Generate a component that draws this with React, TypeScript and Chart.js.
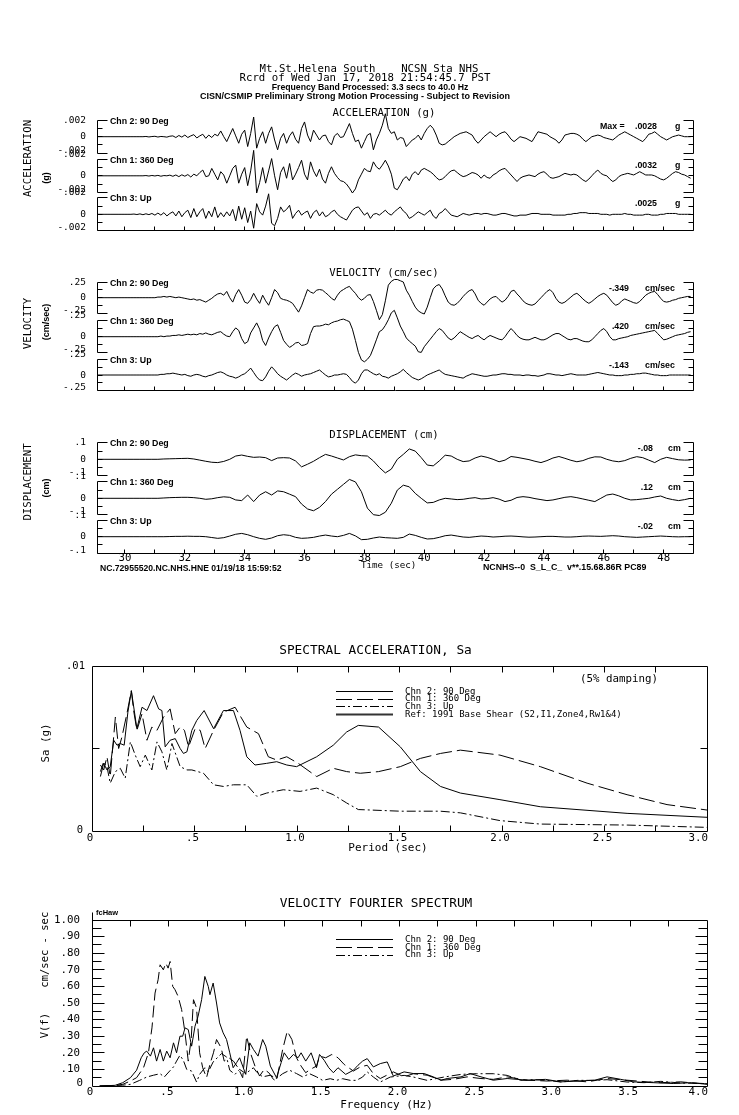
import React, { useEffect, useRef } from "react";
import { Chart, registerables } from "chart.js";

Chart.register(...registerables);

// ================= DATA =================
// Time histories: samples start at T_START, uniform step.
const T_START = 29.1;
const DT_ACC = 0.1;
const DT_VEL = 0.1;
const DT_DIS = 0.2;
const ACC_UNIT = 0.0001; // acceleration arrays stored in units of 1e-4 g

const ACC_CH2 = [
  0, 0, 0, 0, 0, 0, 0, 0, 0, 0,
  0, 0, 0, 0, 0, 0, 0.3, -0.3, 0.2, 0.5,
  -0.4, 0.3, 0, -0.5, 0.6, 1, -1, 1.5, -0.5, 2,
  -1, 1, 2.5, -1.5, 1, 3, -2, 2, -1, 3,
  1, 7, 0, -6, 2, 10, 1, -8, 3, 8,
  -12, 4, 24, -14, -2, 6, -8, 4, 12, -4,
  -16, -2, 4, -8, 1, 6, -3, -8, 10, 18,
  2, -6, 8, 2, -4, 1, 2, -6, -10, 1,
  4, -1, 0, 8, 16, 4, -6, -4, -14, -6,
  2, 4, -16, -4, 4, 14, 28, 10, 4, 6,
  -4, -1, -2, -12, -8, -4, -2, 2, -4, 4,
  10, 14, 10, 2, -8, -10, -9, -6, -3, 0,
  2, 4, 5, 6, 4, 2, -4, -8, -4, 0,
  3, 6, 3, 0, 3, 5, 6, 2, -3, -6,
  -3, 0, -1, -2, -4, -6, 0, 6, 5, 4,
  3, 0, -2, -4, -8, -4, 2, 3, 4, 4,
  3, 1, -3, -6, -3, 0, 1, 2, 1, -1,
  -2, -3, -4, -1, 2, 4, 6, 4, 2, 0,
  -2, -4, -6, -2, 3, 4, 6, 3, 0, -2,
  -4, -2, 0, 1, 2, 1, 0, 0, 0,
];
const ACC_CH1 = [
  0, 0, 0, 0, 0, 0, 0, 0, 0, 0,
  0, 0, 0, 0, 0, 0, 0.3, -0.3, 0.4, -0.2,
  0.5, -0.5, 0.3, 0, 0.8, -0.6, 1, -1, 1.2, -0.5,
  1.5, -1.5, 2, 0, 4, 7, -1, 0, 9, 2,
  -5, 5, 1, -9, 0, 9, 13, -9, 2, 10,
  -12, 6, 31, -21, -8, 10, -9, 6, 21, 0,
  -17, 4, 11, -3, 15, -5, 2, 10, 19, 2,
  -5, 17, 6, -1, 8, -4, -9, 3, 11, 3,
  -2, -6, -7, -10, -15, -21, -16, -5, 2, 9,
  6, 5, 17, 11, 8, 13, 19, 12, 2, -15,
  -17, -11, -4, -1, -6, 2, 5, 1, 7, 9,
  7, 5, 2, -2, -5, -4, -1, 3, 6, 7,
  4, 1, -1, 0, 2, 4, 3, 1, -3, 1,
  -2, -3, 1, 3, 6, 8, 9, 5, 1, -3,
  -7, -3, -1, 0, 1, 0, -1, 2, 4, 5,
  2, -2, -3, -2, -1, 1, 3, 2, 1, 2,
  1, -2, -5, -7, -4, 0, 4, 7, 3, 1,
  0, -4, -7, -5, -1, 1, 2, 3, 2, 1,
  3, 5, 3, 1, 1, 1, 0, -2, -4, -5,
  -3, 0, 3, 5, 4, 2, 1, -1, -3,
];
const ACC_CH3 = [
  0, 0, 0, 0, 0, 0, 0, 0, 0, 0,
  0, 0, 0.3, -0.3, 0.5, -0.5, 0.6, -0.4, 1, -1,
  1.5, -1, 2, -2, 1, 3, -2, 4, -3, 2,
  5, -4, 7, -3, 3, 7, -5, 4, -3, 9,
  -4, 2, -3, 3, -2, 6, -8, 10, -6, 8,
  -10, 4, -17, 13, 3, -1, 10, 25, -11, -14,
  -5, 9, 3, 6, 11, -5, 1, 5, -1, 2,
  4, -5, 2, 5, -2, 3, -3, -1, 3, 5,
  0, -3, -5, -7, -1, 5, 8, 9, 4, -1,
  2, -5, 0, 1, -1, 2, 5, 1, -1, 3,
  6, 9, 4, 1, -5, -3, 0, 3, 1, -1,
  2, 5, -2, -5, 1, 3, 7, 3, -1, -2,
  -3, -1, 1, 0, -1, 0, 1, 1, 0, 1,
  1, 0, -1, -1, 0, 1, 1, 0, -1, -2,
  -2, -1, -1, -1, 0, 1, 1, 1, 0, 0,
  0, 0, -1, -1, -1, -1, -1, 0, 0, 1,
  1, 2, 2, 2, 1, 1, 1, 1, 0, 0,
  0, -1, 0, 0, 0, 0, 1, 0, 0, -1,
  -1, -1, -1, 0, 0, -1, -1, -1, 0, 0,
  1, 1, 1, 1, 0, 0, 0, 0, 0,
];

const VEL_CH2 = [
  0, 0, 0, 0, 0, 0, 0, 0, 0, 0,
  0, 0, 0, 0, 0, 0, 0, 0, 0, 0,
  0.01, 0.01, 0.02, 0.01, 0.02, 0.01, 0, 0.01, 0, -0.01,
  -0.02, -0.03, -0.02, -0.04, -0.03, -0.05, -0.07, -0.04, -0.01, 0.03,
  0.06, 0.07, 0.04, 0.1, 0, -0.07, 0.05, 0.13, 0.04, -0.07,
  -0.09, -0.03, 0.07, -0.02, -0.09, 0.04, -0.05, -0.12, 0, 0.13,
  0.08, -0.01, -0.03, -0.04, -0.06, -0.09, -0.16, -0.23, -0.13, 0,
  0.13, 0.09, 0.07, 0.12, 0.13, 0.12, 0.08, 0.04, -0.01, -0.04,
  0.04, 0.1, 0.13, 0.16, 0.18, 0.12, 0.07, 0, -0.04, -0.01,
  0.04, 0.05, -0.06, -0.2, -0.35, -0.27, -0.05, 0.2, 0.26, 0.29,
  0.29, 0.27, 0.25, 0.12, 0.04, -0.06, -0.15, -0.21, -0.24, -0.26,
  -0.15, 0, 0.14, 0.19, 0.21, 0.14, 0.03, -0.07, -0.11, -0.12,
  -0.09, -0.04, 0.02, 0.07, 0.11, 0.13, 0.06, -0.04, -0.09, -0.12,
  -0.07, -0.02, 0.01, 0.02, -0.03, -0.07, -0.04, 0.02, 0.1, 0.12,
  0.06, 0.01, -0.05, -0.09, -0.11, -0.12, -0.1, -0.05, 0, 0.05,
  0.1, 0.13, 0.08, -0.01, -0.07, -0.09, -0.07, -0.03, 0.01, 0.05,
  0.07, 0.03, -0.02, -0.06, -0.09, -0.06, -0.02, 0.02, 0.05, 0.07,
  0.04, -0.02, -0.08, -0.12, -0.1, -0.05, -0.02, -0.04, -0.06, -0.08,
  -0.09, -0.06, -0.01, 0.04, 0.07, 0.09, 0.1, 0.05, -0.01, -0.06,
  -0.07, -0.06, -0.04, -0.03, -0.01, 0, 0.01, 0.02, 0.02,
];
const VEL_CH1 = [
  0, 0, 0, 0, 0, 0, 0, 0, 0, 0,
  0, 0, 0, 0, 0, 0, 0, 0, 0, 0,
  0, 0.01, 0, 0.01, 0.01, 0.02, 0.02, 0.03, 0.02, 0.03,
  0.04, 0.03, 0.04, 0.03, 0.05, 0.04, 0.06, 0.04, 0.03, 0.05,
  0.07, 0.08, 0.04, 0.01, 0, 0.08, 0.14, 0.1, -0.03, -0.11,
  -0.08, 0.06, 0.14, 0.22, 0.12, -0.06, -0.14, -0.02, 0.08, 0.16,
  0.19, 0.07, -0.06, -0.12, -0.17, -0.14, -0.1, -0.09, -0.14, -0.13,
  -0.11, 0.05, 0.16, 0.17, 0.17, 0.18, 0.2, 0.19, 0.22, 0.24,
  0.25, 0.27, 0.28, 0.26, 0.24, 0.12, -0.06, -0.25, -0.37, -0.4,
  -0.36, -0.3, -0.18, -0.05, 0.08, 0.11, 0.18, 0.27, 0.38, 0.42,
  0.3, 0.17, 0.08, -0.02, -0.07, -0.11, -0.15, -0.24, -0.25, -0.16,
  -0.1, -0.04, 0.02, 0.08, 0.13, 0.1, 0.04, -0.02, -0.05, -0.02,
  0.03, 0.08, 0.05, 0.02, -0.01, -0.03, 0, 0.02, -0.02, -0.05,
  -0.01, 0.02, 0, -0.02, -0.04, -0.05, 0, 0.07, 0.13, 0.08,
  0.02, -0.02, -0.04, -0.05, -0.05, -0.03, -0.01, -0.03, -0.05, -0.05,
  -0.03, 0, 0.03, 0.05, 0.05, 0.02, -0.01, -0.04, -0.05, -0.03,
  -0.03, -0.05, -0.07, -0.08, -0.08, -0.05, 0, 0.05, 0.1, 0.13,
  0.08, 0, -0.05, -0.05, -0.03, -0.02, -0.01, 0, 0.02, 0.03,
  0.04, 0.05, 0.06, 0.07, 0.08, 0.09, 0.1, 0.05, 0, -0.05,
  -0.04, -0.02, 0, 0.02, 0.03, 0.04, 0.05, 0.07, 0.08,
];
const VEL_CH3 = [
  0, 0, 0, 0, 0, 0, 0, 0, 0, 0,
  0, 0, 0, 0, 0, 0, 0, 0, 0, 0,
  0, 0.01, 0.01, 0.02, 0.02, 0.03, 0.02, 0.01, 0, 0.01,
  -0.01, -0.02, 0, 0.01, 0, -0.02, -0.03, -0.01, 0, 0.02,
  0.04, 0.05, 0.03, 0, -0.02, -0.03, -0.05, -0.03, 0, 0.02,
  0.06, 0.11, 0.04, -0.03, -0.08, -0.09, -0.03, 0.06, 0.13, 0.08,
  0.02, -0.02, -0.05, -0.08, -0.04, 0, 0.03, 0.01, -0.02, 0,
  0.01, 0.02, 0.04, 0.06, 0.08, 0.04, 0, -0.03, -0.02, 0,
  0, 0.01, 0.02, 0.01, -0.04, -0.1, -0.13, -0.08, 0.02, 0.08,
  0.08, 0.05, 0.02, 0, 0.02, -0.02, -0.03, -0.05, -0.02, 0,
  0.02, 0.05, 0.09, 0.04, 0, -0.04, -0.06, -0.08, -0.06, -0.03,
  0, 0.02, 0.04, 0.06, 0.08, 0.04, 0.01, 0, -0.01, -0.02,
  -0.03, -0.04, -0.05, -0.02, 0, 0.02, 0.01, 0, -0.01, -0.02,
  -0.02, -0.01, 0, 0, 0.01, 0.02, 0.02, 0.01, 0.01, 0,
  0, 0, -0.01, 0, 0, -0.01, -0.01, -0.02, -0.01, 0,
  0.02, 0.02, 0.01, 0, 0, -0.01, 0, 0.01, 0.02, 0.01,
  0, 0, 0, 0, 0.01, 0.02, 0.03, 0.04, 0.03, 0.02,
  0.01, 0, 0, -0.01, -0.01, -0.01, 0, 0, 0.01, 0.01,
  0.02, 0.02, 0.03, 0.03, 0.02, 0.01, 0, 0, -0.01, -0.01,
  -0.01, 0, 0, 0, 0, 0, 0, 0, 0,
];

const DIS_CH2 = [
  0, 0, 0, 0, 0,
  0, 0, 0, 0, 0,
  0, 0.002, 0.003, 0.004, 0.005,
  0.006, 0.002, -0.005, -0.012, -0.018,
  -0.02, -0.013, 0, 0.02, 0.026,
  0.018, 0.012, 0.014, 0.01, -0.008,
  0.008, 0.01, 0.008, -0.01, -0.046,
  -0.03, -0.012, 0.01, 0.03, 0.02,
  0.008, -0.004, 0.016, 0.027, 0.022,
  0.02, -0.01, -0.05, -0.083, -0.06,
  0, 0.03, 0.063, 0.05, 0.01,
  -0.035, -0.04, -0.01, 0.025, 0.02,
  0, -0.014, -0.01, 0.008, 0.02,
  0.012, 0, -0.015, -0.005, 0.017,
  0.012, 0.005, -0.002, -0.012, -0.02,
  -0.008, 0.008, 0.017, 0.006, -0.006,
  -0.015, -0.008, 0.006, 0.015, 0.014,
  0, -0.01, -0.015, -0.008, 0.006,
  0.016, 0.01, -0.005, -0.02, 0,
  0.012, 0.004, -0.003, -0.005, -0.004,
];
const DIS_CH1 = [
  0, 0, 0, 0, 0,
  0, 0, 0, 0, 0,
  0, 0.002, 0.004, 0.005, 0.006,
  0.006, 0.004, 0, -0.006, -0.003,
  0.004, 0.009, 0.006, -0.01, -0.014,
  0.02, -0.02, 0.02, 0.04, 0.02,
  0.045, 0.04, 0.025, 0.01, -0.035,
  -0.065, -0.076, -0.055, -0.02, 0.025,
  0.055, 0.085, 0.115, 0.1, 0.04,
  -0.06, -0.1, -0.105, -0.085, -0.03,
  0.05, 0.08, 0.07, 0.03, 0,
  -0.028, -0.025, -0.01, 0, -0.004,
  -0.008, -0.006, 0, 0.004, -0.004,
  -0.002, 0.004, -0.005, -0.02, -0.012,
  0.005, 0.01, 0.006, -0.002, -0.008,
  -0.014, -0.01, -0.002, 0.006, 0.01,
  0.004, -0.004, -0.012, -0.02, 0,
  0.02, 0.026, 0.015, 0, -0.01,
  -0.008, -0.004, 0, 0.008, 0.014,
  0, -0.008, -0.014, -0.008, 0,
];
const DIS_CH3 = [
  0, 0, 0, 0, 0,
  0, 0, 0, 0, 0,
  0, 0, 0.001, 0.002, 0.002,
  0.003, 0.002, 0.002, 0, -0.005,
  -0.01, -0.006, 0.004, 0.015, 0.02,
  0.012, 0, -0.01, -0.016, -0.008,
  0.006, 0.012, 0.008, -0.004, -0.01,
  -0.008, -0.004, 0.004, 0.01, 0.004,
  0, 0.008, 0.02, 0.005, -0.018,
  -0.016, -0.008, -0.002, -0.006, -0.008,
  -0.01, -0.004, 0.016, 0.008, -0.004,
  -0.014, -0.012, -0.004, 0.006, 0.01,
  0.004, -0.002, -0.004, 0, 0.004,
  0.002, -0.002, 0, 0.003, 0.004,
  0.002, -0.001, -0.003, -0.002, 0,
  0.002, 0.002, 0, -0.002, -0.002,
  0, 0.003, 0.004, 0.003, 0.002,
  0.004, 0.006, 0.004, 0, -0.002,
  -0.004, -0.002, 0, 0.002, 0.004,
  0.002, 0, -0.001, 0, 0,
];

const CHANNEL_NAMES = ["Chn 2: 90 Deg", "Chn 1: 360 Deg", "Chn 3: Up"];
const ACC_PEAKS = [".0028", ".0032", ".0025"];
const VEL_PEAKS = ["-.349", ".420", "-.143"];
const DIS_PEAKS = ["-.08", ".12", "-.02"];
const ACC_TICK_LABELS = [".002", "0", "-.002"];
const VEL_TICK_LABELS = [".25", "0", "-.25"];
const DIS_TICK_LABELS = [".1", "0", "-.1"];
const TIME_TICK_LABELS = [30, 32, 34, 36, 38, 40, 42, 44, 46, 48];

// Spectral acceleration (period s, Sa g)
const SA_CH2_P = [0.041, 0.057, 0.073, 0.089, 0.106, 0.122, 0.138, 0.157, 0.175, 0.192, 0.219, 0.244, 0.268, 0.3, 0.325, 0.341, 0.357, 0.381, 0.406, 0.43, 0.446, 0.463, 0.487, 0.511, 0.547, 0.593, 0.641, 0.69, 0.722, 0.755, 0.795, 0.852, 0.901, 0.95, 0.998, 1.096, 1.177, 1.242, 1.299, 1.398, 1.504, 1.602, 1.7, 1.797, 1.99, 2.187, 2.61, 3.0];
const SA_CH2 = [0.0033, 0.0041, 0.0037, 0.0039, 0.0055, 0.0052, 0.0053, 0.0052, 0.0072, 0.0085, 0.0062, 0.0075, 0.0073, 0.0082, 0.0074, 0.0073, 0.0051, 0.0055, 0.0056, 0.005, 0.0047, 0.0048, 0.0061, 0.0067, 0.0073, 0.0062, 0.0073, 0.0073, 0.0061, 0.0045, 0.004, 0.0041, 0.0042, 0.004, 0.0039, 0.0045, 0.0052, 0.006, 0.0064, 0.0063, 0.0051, 0.0036, 0.0027, 0.0023, 0.0019, 0.00147, 0.00107, 0.00083];
const SA_CH1_P = [0.041, 0.057, 0.073, 0.089, 0.114, 0.13, 0.146, 0.17, 0.192, 0.203, 0.219, 0.244, 0.268, 0.292, 0.317, 0.349, 0.381, 0.406, 0.43, 0.451, 0.471, 0.503, 0.528, 0.552, 0.593, 0.641, 0.698, 0.755, 0.812, 0.86, 0.901, 0.95, 1.006, 1.096, 1.177, 1.242, 1.309, 1.398, 1.504, 1.602, 1.7, 1.797, 1.99, 2.187, 2.415, 2.61, 2.805, 3.0];
const SA_CH1 = [0.004, 0.0037, 0.0045, 0.0033, 0.0069, 0.005, 0.0057, 0.0071, 0.0085, 0.0073, 0.0061, 0.0071, 0.0055, 0.0063, 0.0061, 0.0069, 0.0074, 0.0059, 0.0063, 0.0061, 0.0051, 0.0062, 0.0061, 0.005, 0.0061, 0.0072, 0.0075, 0.0063, 0.0059, 0.0045, 0.0043, 0.0045, 0.0041, 0.0033, 0.0038, 0.0036, 0.0035, 0.0036, 0.0039, 0.0044, 0.0047, 0.0049, 0.0046, 0.0039, 0.0029, 0.0022, 0.0016, 0.00127];
const SA_CH3_P = [0.041, 0.057, 0.073, 0.089, 0.114, 0.138, 0.162, 0.187, 0.211, 0.235, 0.26, 0.292, 0.317, 0.341, 0.365, 0.39, 0.43, 0.463, 0.487, 0.544, 0.593, 0.641, 0.69, 0.755, 0.804, 0.852, 0.933, 1.015, 1.096, 1.177, 1.242, 1.299, 1.504, 1.7, 1.797, 1.99, 2.187, 2.61, 3.0];
const SA_CH3 = [0.0036, 0.0042, 0.0039, 0.0029, 0.0036, 0.0038, 0.0032, 0.0054, 0.0046, 0.0039, 0.0046, 0.0037, 0.0054, 0.0048, 0.0037, 0.0053, 0.0039, 0.0037, 0.0037, 0.0035, 0.0028, 0.0027, 0.0028, 0.0028, 0.0021, 0.0023, 0.0025, 0.0024, 0.0026, 0.0022, 0.0017, 0.0013, 0.0012, 0.0012, 0.0011, 0.00063, 0.00042, 0.00036, 0.00022];
const SA_LEGEND = ["Chn 2: 90 Deg", "Chn 1: 360 Deg", "Chn 3: Up", "Ref: 1991 Base Shear (S2,I1,Zone4,Rw1&4)"];
const SA_X_TICKS = [0, 0.5, 1.0, 1.5, 2.0, 2.5, 3.0];
const SA_X_LABELS = ["0", ".5", "1.0", "1.5", "2.0", "2.5", "3.0"];

// Velocity Fourier spectrum (frequency Hz, amplitude cm/sec-sec)
const FS_CH2_F = [0.05, 0.15, 0.2, 0.25, 0.29, 0.32, 0.34, 0.356, 0.38, 0.4, 0.42, 0.443, 0.464, 0.486, 0.508, 0.53, 0.55, 0.572, 0.59, 0.605, 0.626, 0.648, 0.67, 0.69, 0.713, 0.734, 0.756, 0.767, 0.788, 0.81, 0.83, 0.853, 0.875, 0.896, 0.918, 0.94, 0.96, 0.98, 1.0, 1.026, 1.05, 1.08, 1.11, 1.13, 1.16, 1.2, 1.23, 1.25, 1.28, 1.31, 1.34, 1.36, 1.39, 1.425, 1.46, 1.48, 1.51, 1.54, 1.57, 1.6, 1.65, 1.7, 1.73, 1.76, 1.79, 1.83, 1.875, 1.92, 1.96, 2.03, 2.09, 2.16, 2.22, 2.27, 2.31, 2.4, 2.46, 2.53, 2.61, 2.7, 2.83, 2.95, 3.05, 3.16, 3.27, 3.35, 3.44, 3.52, 3.65, 3.78, 3.9, 4.0];
const FS_CH2 = [0, 0.004, 0.02, 0.05, 0.095, 0.17, 0.2, 0.21, 0.18, 0.23, 0.15, 0.22, 0.15, 0.21, 0.17, 0.26, 0.2, 0.3, 0.3, 0.35, 0.34, 0.24, 0.36, 0.42, 0.52, 0.66, 0.6, 0.55, 0.62, 0.5, 0.38, 0.32, 0.28, 0.2, 0.11, 0.14, 0.17, 0.12, 0.07, 0.26, 0.22, 0.18, 0.28, 0.24, 0.12, 0.05, 0.14, 0.2, 0.16, 0.19, 0.17, 0.2, 0.15, 0.2, 0.11, 0.19, 0.155, 0.11, 0.08, 0.11, 0.07, 0.095, 0.125, 0.15, 0.165, 0.115, 0.135, 0.145, 0.06, 0.085, 0.075, 0.075, 0.055, 0.035, 0.045, 0.055, 0.075, 0.055, 0.035, 0.045, 0.035, 0.04, 0.025, 0.03, 0.035, 0.055, 0.04, 0.025, 0.02, 0.015, 0.02, 0.01];
const FS_CH1_F = [0.05, 0.15, 0.2, 0.25, 0.29, 0.335, 0.367, 0.39, 0.41, 0.43, 0.443, 0.464, 0.48, 0.495, 0.508, 0.525, 0.54, 0.56, 0.583, 0.605, 0.626, 0.645, 0.66, 0.68, 0.7, 0.72, 0.745, 0.77, 0.79, 0.81, 0.84, 0.86, 0.89, 0.92, 0.95, 0.98, 1.006, 1.03, 1.06, 1.09, 1.12, 1.15, 1.18, 1.2, 1.24, 1.27, 1.3, 1.33, 1.36, 1.39, 1.42, 1.46, 1.48, 1.52, 1.56, 1.6, 1.64, 1.7, 1.745, 1.79, 1.83, 1.875, 1.96, 2.03, 2.09, 2.18, 2.27, 2.35, 2.44, 2.53, 2.61, 2.7, 2.83, 2.96, 3.09, 3.22, 3.35, 3.48, 3.61, 3.7, 3.83, 3.91, 4.0];
const FS_CH1 = [0, 0.003, 0.01, 0.03, 0.05, 0.11, 0.2, 0.35, 0.56, 0.64, 0.73, 0.7, 0.74, 0.71, 0.75, 0.6, 0.58, 0.54, 0.46, 0.32, 0.15, 0.28, 0.52, 0.47, 0.2, 0.11, 0.05, 0.14, 0.2, 0.28, 0.23, 0.15, 0.17, 0.15, 0.11, 0.05, 0.3, 0.2, 0.12, 0.06, 0.1, 0.08, 0.04, 0.03, 0.22, 0.33, 0.28, 0.17, 0.12, 0.08, 0.1, 0.12, 0.18, 0.17, 0.19, 0.17, 0.13, 0.09, 0.115, 0.125, 0.074, 0.045, 0.085, 0.055, 0.074, 0.065, 0.035, 0.04, 0.055, 0.045, 0.04, 0.055, 0.035, 0.03, 0.035, 0.025, 0.045, 0.035, 0.025, 0.02, 0.025, 0.018, 0.014];
const FS_CH3_F = [0.05, 0.2, 0.25, 0.31, 0.356, 0.4, 0.443, 0.47, 0.51, 0.53, 0.55, 0.572, 0.594, 0.616, 0.648, 0.68, 0.7, 0.734, 0.756, 0.788, 0.82, 0.842, 0.875, 0.896, 0.93, 0.96, 1.0, 1.05, 1.07, 1.11, 1.16, 1.2, 1.24, 1.285, 1.33, 1.37, 1.415, 1.46, 1.5, 1.55, 1.59, 1.63, 1.68, 1.72, 1.76, 1.79, 1.83, 1.875, 1.94, 2.03, 2.09, 2.18, 2.29, 2.4, 2.5, 2.61, 2.7, 2.79, 2.87, 2.96, 3.05, 3.16, 3.27, 3.35, 3.48, 3.59, 3.7, 3.83, 4.0];
const FS_CH3 = [0, 0.005, 0.01, 0.034, 0.054, 0.065, 0.074, 0.054, 0.095, 0.115, 0.15, 0.185, 0.155, 0.1, 0.09, 0.024, 0.07, 0.11, 0.085, 0.145, 0.175, 0.195, 0.175, 0.095, 0.07, 0.1, 0.075, 0.11, 0.085, 0.055, 0.065, 0.045, 0.074, 0.095, 0.075, 0.055, 0.074, 0.055, 0.034, 0.044, 0.034, 0.044, 0.034, 0.034, 0.054, 0.085, 0.054, 0.024, 0.054, 0.064, 0.054, 0.034, 0.054, 0.07, 0.074, 0.074, 0.064, 0.034, 0.038, 0.034, 0.024, 0.034, 0.034, 0.038, 0.024, 0.02, 0.028, 0.018, 0.014];
const FS_LEGEND = ["Chn 2: 90 Deg", "Chn 1: 360 Deg", "Chn 3: Up"];
const FS_X_TICKS = [0, 0.5, 1.0, 1.5, 2.0, 2.5, 3.0, 3.5, 4.0];
const FS_X_LABELS = ["0", ".5", "1.0", "1.5", "2.0", "2.5", "3.0", "3.5", "4.0"];
const FS_Y_TICKS = [1.0, 0.9, 0.8, 0.7, 0.6, 0.5, 0.4, 0.3, 0.2, 0.1, 0];
const FS_Y_LABELS = ["1.00", ".90", ".80", ".70", ".60", ".50", ".40", ".30", ".20", ".10", "0"];

// ================= LAYOUT / STYLE =================
const PAGE_W = 739;
const PAGE_H = 1115;
const MONO = '"DejaVu Sans Mono", "Liberation Mono", monospace';
const SANS = '"Liberation Sans", Arial, sans-serif';
const INK = "#000";
const DASH_LONG = [16, 5];
const DASH_DOT = [9, 3, 2, 3];
const SMALL = `bold 8.8px ${SANS}`;

const TH_LEFT = 97;
const TH_RIGHT = 693;
const TH_TOP = 120;
const TH_BOTTOM = 553;
const T_MIN = 29.065;
const T_MAX = 48.98;

const GROUPS = [
  {
    key: "a", title: "ACCELERATION (g)", titleY: 113, side: "ACCELERATION", sideY: 158.5,
    unit: "(g)", unitY: 178, zeros: [136.7, 175.8, 214.3], half: 16.4, full: 0.002,
    tickLabels: ACC_TICK_LABELS, peaks: ACC_PEAKS, peakRight: 657, peakUnit: "g", peakUnitX: 675,
    series: [ACC_CH2, ACC_CH1, ACC_CH3], dt: DT_ACC, scale: ACC_UNIT, showTime: false,
  },
  {
    key: "v", title: "VELOCITY (cm/sec)", titleY: 273, side: "VELOCITY", sideY: 323.5,
    unit: "(cm/sec)", unitY: 322, zeros: [297.7, 336.7, 375], half: 15.7, full: 0.25,
    tickLabels: VEL_TICK_LABELS, peaks: VEL_PEAKS, peakRight: 629, peakUnit: "cm/sec", peakUnitX: 645,
    series: [VEL_CH2, VEL_CH1, VEL_CH3], dt: DT_VEL, scale: 1, showTime: false,
  },
  {
    key: "d", title: "DISPLACEMENT (cm)", titleY: 435, side: "DISPLACEMENT", sideY: 482,
    unit: "(cm)", unitY: 488, zeros: [459.3, 498.3, 536.7], half: 16.4, full: 0.1,
    tickLabels: DIS_TICK_LABELS, peaks: DIS_PEAKS, peakRight: 653, peakUnit: "cm", peakUnitX: 668,
    series: [DIS_CH2, DIS_CH1, DIS_CH3], dt: DT_DIS, scale: 1, showTime: true,
  },
];

// ================= HELPERS =================
const crisp = (v: number) => Math.round(v - 0.5) + 0.5;

function text(ctx: any, s: string, x: number, y: number, font: string, align: CanvasTextAlign = "left", rot = 0) {
  ctx.save();
  ctx.fillStyle = INK;
  ctx.font = font;
  ctx.textAlign = align;
  ctx.textBaseline = "middle";
  ctx.translate(x, y);
  if (rot) ctx.rotate(rot);
  ctx.fillText(s, 0, 0);
  ctx.restore();
}

function seg(ctx: any, x1: number, y1: number, x2: number, y2: number, w = 1, dash: number[] = [], color = INK) {
  ctx.save();
  ctx.beginPath();
  ctx.setLineDash(dash);
  ctx.lineWidth = w;
  ctx.strokeStyle = color;
  ctx.moveTo(x1, y1);
  ctx.lineTo(x2, y2);
  ctx.stroke();
  ctx.restore();
}

function series(vals: number[], t0: number, dt: number, unit: number) {
  return vals.map((v, i) => ({ x: +(t0 + i * dt).toFixed(3), y: v * unit }));
}
function pairs(xs: number[], ys: number[]) {
  const n = Math.min(xs.length, ys.length);
  const out = [] as { x: number; y: number }[];
  for (let i = 0; i < n; i++) out.push({ x: xs[i], y: ys[i] });
  return out;
}

const lineDs = (data: any, extra: any = {}) => ({
  data,
  borderColor: INK,
  borderWidth: 1,
  pointRadius: 0,
  tension: 0,
  fill: false,
  clip: false as any,
  ...extra,
});

// ================= TIME HISTORY CHART =================
function timeConfig(): any {
  const datasets: any[] = [];
  const scales: any = {
    x: { type: "linear", min: T_MIN, max: T_MAX, display: false },
  };
  GROUPS.forEach((g) => {
    g.series.forEach((vals, i) => {
      const id = `${g.key}${i}`;
      const z = g.zeros[i];
      const k = g.full / g.half;
      scales[id] = {
        type: "linear", display: false,
        min: -(TH_BOTTOM - z) * k, max: (z - TH_TOP) * k,
      };
      datasets.push(lineDs(series(vals, T_START, g.dt, g.scale), { yAxisID: id, borderWidth: 1 }));
    });
  });

  const deco = {
    id: "timeDeco",
    afterDraw(chart: any) {
      const ctx = chart.ctx;
      const xs = chart.scales.x;
      const L = crisp(chart.chartArea.left);
      const R = crisp(chart.chartArea.right);
      // header
      text(ctx, "Mt.St.Helena South    NCSN Sta NHS", 369, 69.5, `10.7px ${MONO}`, "center");
      text(ctx, "Rcrd of Wed Jan 17, 2018 21:54:45.7 PST", 365, 78.5, `10.7px ${MONO}`, "center");
      text(ctx, "Frequency Band Processed: 3.3 secs to 40.0 Hz", 370, 88, `bold 8.7px ${SANS}`, "center");
      text(ctx, "CISN/CSMIP Preliminary Strong Motion Processing - Subject to Revision", 355, 96.5, `bold 9px ${SANS}`, "center");

      GROUPS.forEach((g) => {
        text(ctx, g.title, 384, g.titleY, `10.7px ${MONO}`, "center");
        text(ctx, g.side, 28, g.sideY, `10.7px ${MONO}`, "center", -Math.PI / 2);
        text(ctx, g.unit, 47, g.unitY, `bold 9px ${SANS}`, "center", -Math.PI / 2);
        let bottomY = 0;
        g.series.forEach((_, i) => {
          const ys = chart.scales[`${g.key}${i}`];
          const pT = crisp(ys.getPixelForValue(g.full));
          const pHu = crisp(ys.getPixelForValue(g.full / 2));
          const p0 = crisp(ys.getPixelForValue(0));
          const pHd = crisp(ys.getPixelForValue(-g.full / 2));
          const pB = crisp(ys.getPixelForValue(-g.full));
          bottomY = pB;
          // brackets
          [[L, 1], [R, -1]].forEach(([x, d]) => {
            seg(ctx, x, pT, x, pB);
            seg(ctx, x, pT, x + d * 10, pT);
            seg(ctx, x, pB, x + d * 10, pB);
            seg(ctx, x, pHu, x + d * 5, pHu);
            seg(ctx, x, pHd, x + d * 5, pHd);
            seg(ctx, x, p0, x + d * 5, p0);
          });
          // tick labels (upper/lower labels of adjacent channels overlap, as in the original plot)
          text(ctx, g.tickLabels[0], 86, i === 0 ? pT + 0.5 : pT - 5, `9.5px ${MONO}`, "right");
          text(ctx, g.tickLabels[1], 86, p0, `9.5px ${MONO}`, "right");
          text(ctx, g.tickLabels[2], 86, pB - 3, `9.5px ${MONO}`, "right");
          // channel label
          text(ctx, CHANNEL_NAMES[i], 110, pT + 1, SMALL, "left");
          // peak labels
          if (g.key === "a" && i === 0) text(ctx, "Max =", 600, pT + 6, SMALL, "left");
          text(ctx, g.peaks[i], g.peakRight, pT + 6, SMALL, "right");
          text(ctx, g.peakUnit, g.peakUnitX, pT + 6, SMALL, "left");
        });
        // bottom axis
        seg(ctx, L, bottomY, R, bottomY);
        for (let t = 30; t <= 48; t++) {
          const x = crisp(xs.getPixelForValue(t));
          seg(ctx, x, bottomY, x, bottomY - 4);
        }
        if (g.showTime) {
          TIME_TICK_LABELS.forEach((t) => {
            text(ctx, String(t), xs.getPixelForValue(t), bottomY + 4.5, `10.7px ${MONO}`, "center");
          });
        }
      });
      // footer
      text(ctx, "NC.72955520.NC.NHS.HNE 01/19/18 15:59:52", 100, 568.5, `bold 8.6px ${SANS}`, "left");
      text(ctx, "Time (sec)", 361, 566, `9.2px ${MONO}`, "left");
      text(ctx, "NCNHS--0  S_L_C_  v**.15.68.86R PC89", 483, 567.5, `bold 8.8px ${SANS}`, "left");
    },
  };

  return {
    type: "line",
    data: { datasets },
    options: {
      responsive: false,
      animation: false,
      events: [],
      layout: { padding: { left: TH_LEFT, right: PAGE_W - TH_RIGHT, top: TH_TOP, bottom: PAGE_H - TH_BOTTOM } },
      scales,
      plugins: { legend: { display: false }, tooltip: { enabled: false }, title: { display: false } },
    },
    plugins: [deco],
  };
}

// ================= SPECTRAL ACCELERATION CHART =================
const SA_L = 92, SA_R = 707, SA_T = 666, SA_B = 831;

function saConfig(): any {
  const deco = {
    id: "saDeco",
    afterDraw(chart: any) {
      const ctx = chart.ctx;
      const xs = chart.scales.x, ys = chart.scales.y;
      const L = crisp(chart.chartArea.left), R = crisp(chart.chartArea.right);
      const T = crisp(chart.chartArea.top), B = crisp(chart.chartArea.bottom);
      seg(ctx, L, T, R, T); seg(ctx, L, B, R, B); seg(ctx, L, T, L, B); seg(ctx, R, T, R, B);
      for (let p = 0.25; p < 3; p += 0.25) {
        const x = crisp(xs.getPixelForValue(p));
        seg(ctx, x, T, x, T + 6);
        seg(ctx, x, B, x, B - 6);
      }
      const ym = crisp(ys.getPixelForValue(0.005));
      seg(ctx, L, ym, L + 7, ym);
      seg(ctx, R, ym, R - 7, ym);
      text(ctx, "SPECTRAL ACCELERATION, Sa", 375.5, 650.5, `12.8px ${MONO}`, "center");
      text(ctx, ".01", 85, ys.getPixelForValue(0.01), `10.5px ${MONO}`, "right");
      text(ctx, "0", 83, ys.getPixelForValue(0) - 1, `10.5px ${MONO}`, "right");
      SA_X_TICKS.forEach((v, i) => {
        const x = xs.getPixelForValue(v);
        const last = i === SA_X_TICKS.length - 1;
        text(ctx, SA_X_LABELS[i], last ? x + 1 : x - 2, 838, `10.8px ${MONO}`, last ? "right" : "center");
      });
      text(ctx, "Period (sec)", 388, 848.5, `11px ${MONO}`, "center");
      text(ctx, "Sa (g)", 46, 743, `10.8px ${MONO}`, "center", -Math.PI / 2);
      text(ctx, "(5% damping)", 580, 679, `10.8px ${MONO}`, "left");
      // legend
      const ly = [691.5, 699, 706.5, 714.5];
      const dashes = [[], DASH_LONG, DASH_DOT, []];
      ly.forEach((y, i) => {
        seg(ctx, 336, crisp(y), 393, crisp(y), i === 3 ? 2 : 1, dashes[i], i === 3 ? "#333" : INK);
        text(ctx, SA_LEGEND[i], 405, y, `9px ${MONO}`, "left");
      });
    },
  };
  return {
    type: "line",
    data: {
      datasets: [
        lineDs(pairs(SA_CH2_P, SA_CH2)),
        lineDs(pairs(SA_CH1_P, SA_CH1), { borderDash: DASH_LONG }),
        lineDs(pairs(SA_CH3_P, SA_CH3), { borderDash: DASH_DOT }),
      ],
    },
    options: {
      responsive: false,
      animation: false,
      events: [],
      layout: { padding: { left: SA_L, right: PAGE_W - SA_R, top: SA_T, bottom: PAGE_H - SA_B } },
      scales: {
        x: { type: "linear", min: 0, max: 3, display: false },
        y: { type: "linear", min: 0, max: 0.01, display: false },
      },
      plugins: { legend: { display: false }, tooltip: { enabled: false } },
    },
    plugins: [deco],
  };
}

// ================= FOURIER SPECTRUM CHART =================
const FS_L = 92, FS_R = 707, FS_T = 920, FS_B = 1086;

function fsConfig(): any {
  const deco = {
    id: "fsDeco",
    afterDraw(chart: any) {
      const ctx = chart.ctx;
      const xs = chart.scales.x, ys = chart.scales.y;
      const L = crisp(chart.chartArea.left), R = crisp(chart.chartArea.right);
      const T = crisp(chart.chartArea.top), B = crisp(chart.chartArea.bottom);
      seg(ctx, L, T, R, T); seg(ctx, L, B, R, B); seg(ctx, L, T - 8, L, B); seg(ctx, R, T, R, B);
      for (let f = 0.25; f < 4; f += 0.25) {
        const x = crisp(xs.getPixelForValue(f));
        seg(ctx, x, T, x, T + 6);
      }
      for (let k = 1; k < 20; k++) {
        const v = k * 0.05;
        const y = crisp(ys.getPixelForValue(v));
        const len = k % 2 === 0 ? 12 : 9;
        seg(ctx, L, y, L + len, y);
        seg(ctx, R, y, R - len, y);
      }
      text(ctx, "VELOCITY FOURIER SPECTRUM", 376, 903.3, `12.8px ${MONO}`, "center");
      text(ctx, "fcHaw", 96, 913, `bold 7.5px ${SANS}`, "left");
      FS_Y_TICKS.forEach((v, i) => {
        const y = ys.getPixelForValue(v);
        const isZero = v === 0;
        text(ctx, FS_Y_LABELS[i], isZero ? 83 : 80, isZero ? y - 3 : y, `10.8px ${MONO}`, "right");
      });
      FS_X_TICKS.forEach((v, i) => {
        const x = xs.getPixelForValue(v);
        const last = i === FS_X_TICKS.length - 1;
        text(ctx, FS_X_LABELS[i], last ? x + 1 : x - 2, 1092, `10.8px ${MONO}`, last ? "right" : "center");
      });
      text(ctx, "Frequency (Hz)", 386.5, 1105, `11px ${MONO}`, "center");
      text(ctx, "V(f)    cm/sec - sec", 45, 975, `10.5px ${MONO}`, "center", -Math.PI / 2);
      const ly = [939.5, 947.5, 955];
      const dashes = [[], DASH_LONG, DASH_DOT];
      ly.forEach((y, i) => {
        seg(ctx, 336, crisp(y), 393, crisp(y), 1, dashes[i]);
        text(ctx, FS_LEGEND[i], 405, y, `9px ${MONO}`, "left");
      });
    },
  };
  return {
    type: "line",
    data: {
      datasets: [
        lineDs(pairs(FS_CH2_F, FS_CH2)),
        lineDs(pairs(FS_CH1_F, FS_CH1), { borderDash: [12, 5] }),
        lineDs(pairs(FS_CH3_F, FS_CH3), { borderDash: DASH_DOT }),
      ],
    },
    options: {
      responsive: false,
      animation: false,
      events: [],
      layout: { padding: { left: FS_L, right: PAGE_W - FS_R, top: FS_T, bottom: PAGE_H - FS_B } },
      scales: {
        x: { type: "linear", min: 0, max: 4, display: false },
        y: { type: "linear", min: 0, max: 1, display: false },
      },
      plugins: { legend: { display: false }, tooltip: { enabled: false } },
    },
    plugins: [deco],
  };
}

// ================= COMPONENT =================
export default function App() {
  const r1 = useRef<HTMLCanvasElement>(null);
  const r2 = useRef<HTMLCanvasElement>(null);
  const r3 = useRef<HTMLCanvasElement>(null);

  useEffect(() => {
    const charts = [
      new Chart(r1.current as HTMLCanvasElement, timeConfig()),
      new Chart(r2.current as HTMLCanvasElement, saConfig()),
      new Chart(r3.current as HTMLCanvasElement, fsConfig()),
    ];
    return () => charts.forEach((c) => c.destroy());
  }, []);

  const cs: React.CSSProperties = { position: "absolute", left: 0, top: 0 };
  return (
    <div style={{ position: "absolute", left: 0, top: 0, width: PAGE_W, height: PAGE_H, background: "#fff", overflow: "hidden" }}>
      <canvas ref={r1} width={PAGE_W} height={PAGE_H} style={cs} />
      <canvas ref={r2} width={PAGE_W} height={PAGE_H} style={cs} />
      <canvas ref={r3} width={PAGE_W} height={PAGE_H} style={cs} />
    </div>
  );
}
